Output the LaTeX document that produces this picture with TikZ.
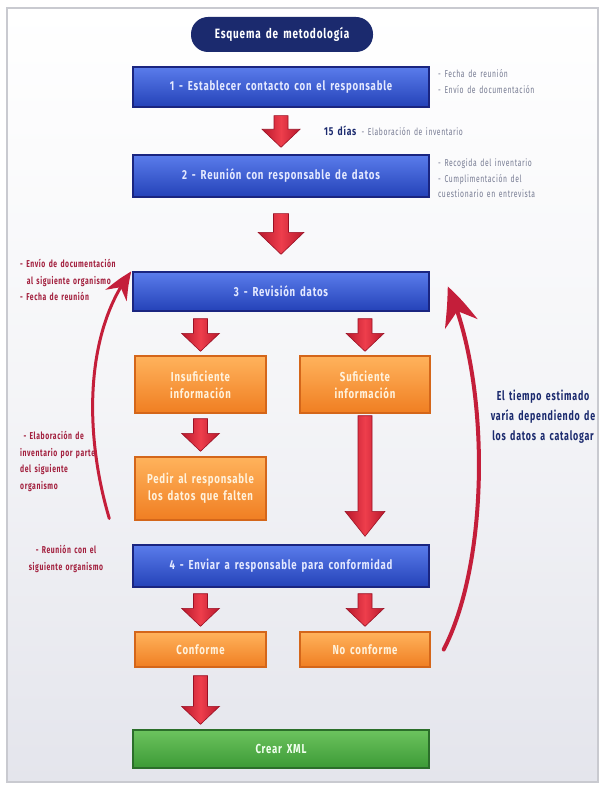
\documentclass[tikz,border=0pt]{standalone}
\usepackage{fontspec}
\setmainfont{Fira Sans}[FakeStretch=0.8]
\newfontfamily\condfont{Fira Sans}[FakeStretch=0.74, LetterSpace=6, WordSpace=1.6]
\newfontfamily\narrowfont{Fira Sans}[FakeStretch=0.68, LetterSpace=6, WordSpace=1.5]
\usetikzlibrary{calc,arrows.meta,bending}

\definecolor{navy}{HTML}{1B2A6E}
\definecolor{bluetop}{HTML}{5A7CEB}
\definecolor{bluebot}{HTML}{2442B8}
\definecolor{bluedge}{HTML}{1A2580}
\definecolor{bluetext}{HTML}{E4E9FF}
\definecolor{orgtop}{HTML}{FFB35C}
\definecolor{orgbot}{HTML}{F07E22}
\definecolor{orgedge}{HTML}{D4661A}
\definecolor{orgtext}{HTML}{FFF2DC}
\definecolor{grntop}{HTML}{6CC35E}
\definecolor{grnbot}{HTML}{3C9A36}
\definecolor{grnedge}{HTML}{2B6E2A}
\definecolor{grntext}{HTML}{F0FFEE}
\definecolor{arrlight}{HTML}{EE3E4C}
\definecolor{arrdark}{HTML}{B8182C}
\definecolor{arredge}{HTML}{9A1024}
\definecolor{curvecol}{HTML}{C41E3A}
\definecolor{notegray}{HTML}{767B92}
\definecolor{notered}{HTML}{A3213F}
\definecolor{bgbottom}{HTML}{E4E5EC}
\definecolor{framecol}{HTML}{C9CAD0}

% block arrow: shaft half width, head half width, head length, start, tip
\newcommand{\blockarr}[5]{%
  \path[redarr] let \p1=#4, \p2=#5 in
    (\x1-#1pt,\y1) -- (\x1+#1pt,\y1) -- (\x1+#1pt,\y2+#3pt)
    -- (\x1+#2pt,\y2+#3pt) -- (\x1,\y2) -- (\x1-#2pt,\y2+#3pt)
    -- (\x1-#1pt,\y2+#3pt) -- cycle;}

\begin{document}
\begin{tikzpicture}[x=1pt,y=-1pt,
  box/.style={draw, line width=1.4pt, align=center, inner sep=0pt,
    font=\condfont\bfseries\fontsize{13}{17}\selectfont},
  bluebox/.style={box, draw=bluedge, top color=bluetop, bottom color=bluebot,
    text=bluetext, minimum width=296pt},
  orgbox/.style={box, draw=orgedge, top color=orgtop, bottom color=orgbot,
    text=orgtext, minimum width=131pt},
  grnbox/.style={box, draw=grnedge, top color=grntop, bottom color=grnbot,
    text=grntext, minimum width=296pt},
  redarr/.style={draw=arredge, line width=0.6pt, left color=arrdark,
    right color=arrdark, middle color=arrlight},
  curvearr/.style={draw=curvecol, line cap=round},
  notes/.style={anchor=north west, align=left, inner sep=0pt,
    font=\narrowfont\fontsize{10}{16}\selectfont},
  rnote/.style={notes, text=notegray},
  lnote/.style={notes, text=notered, font=\narrowfont\bfseries\fontsize{10}{16.5}\selectfont},
]
\useasboundingbox (0,0) rectangle (600,786);
\fill[white] (0,0) rectangle (600,786);
\shade[top color=white, bottom color=bgbottom, middle color=white!60!bgbottom]
  (7,8) rectangle (598,782);
\draw[framecol, line width=1.2pt] (7,8) rectangle (598,782);

% title
\node[fill=navy, rounded corners=17pt, minimum width=182pt, minimum height=35pt,
  text=white, font=\condfont\bfseries\fontsize{13.5}{16}\selectfont] (title) at (282,34.5)
  {Esquema de metodología};

% steps
\node[bluebox, minimum height=40pt] (b1) at (281,87) {1 - Establecer contacto con el responsable};
\node[bluebox, minimum height=42pt] (b2) at (281,176) {2 - Reunión con responsable de datos};
\node[bluebox, minimum height=39pt] (b3) at (281,291.5) {3 - Revisión datos};
\node[orgbox, minimum height=57pt] (insuf) at (200.5,384.5) {Insuficiente\\información};
\node[orgbox, minimum height=57pt, minimum width=130pt] (suf) at (365,384.5) {Suficiente\\información};
\node[orgbox, minimum height=63pt] (pedir) at (200.5,488.5) {Pedir al responsable\\los datos que falten};
\node[bluebox, minimum height=42pt] (b4) at (281,566) {4 - Enviar a responsable para conformidad};
\node[orgbox, minimum height=35pt] (conf) at (200.5,649.5) {Conforme};
\node[orgbox, minimum height=35pt, minimum width=130pt] (noconf) at (365,649.5) {No conforme};
\node[grnbox, minimum height=38pt] (xml) at (281,749) {Crear XML};

% block arrows
\blockarr{7}{19}{18}{($(b1.south)+(0,8)$)}{($(b2.north)+(0,-7)$)}
\blockarr{7.5}{23}{22}{($(b2.south)+(0,16)$)}{($(b3.north)+(0,-17)$)}
\blockarr{7}{19}{18}{($(b3.south-|insuf.north)+(0,7)$)}{($(insuf.north)+(0,-4)$)}
\blockarr{7}{19}{18}{($(b3.south-|suf.north)+(0,7)$)}{($(suf.north)+(0,-4)$)}
\blockarr{7}{19}{18}{($(insuf.south)+(0,5)$)}{($(pedir.north)+(0,-5)$)}
\blockarr{7}{20}{25}{($(suf.south)+(0,2)$)}{($(b4.north)+(0,-8)$)}
\blockarr{7}{19}{18}{($(b4.south-|conf.north)+(0,6)$)}{($(conf.north)+(0,-5)$)}
\blockarr{7}{19}{18}{($(b4.south-|noconf.north)+(0,6)$)}{($(noconf.north)+(0,-5)$)}
\blockarr{7}{19}{18}{($(conf.south)+(0,8)$)}{($(xml.north)+(0,-5)$)}

% loop-back arrows
\coordinate (rtail) at ($(noconf.east)+(13,0)$);
\coordinate (rtip) at ($(b3.east)+(18,-5)$);
\draw[curvearr, line width=4pt, -{Stealth[length=38pt,width=34pt,bend]}]
  (rtail) .. controls (490,560) and (490,380) .. (rtip);
\coordinate (ltail) at ($(pedir.west)+(-25,30)$);
\coordinate (ltip) at ($(b3.west)+(-1,-20)$);
\draw[curvearr, line width=3pt, -{Stealth[length=28pt,width=24pt,bend]}]
  (ltail) .. controls (83,430) and (86,330) .. (ltip);

% annotations
\node[rnote] (n1) at (438,69) {- Fecha de reunión\\- Envío de documentación};
\node[text=navy, anchor=west, font=\condfont\bfseries\fontsize{11.5}{14}\selectfont, inner sep=0pt]
  (dias) at (324,131) {15 días};
\node[rnote, anchor=west] (n15) at ($(dias.east)+(5,1)$) {- Elaboración de inventario};
\node[rnote, font=\narrowfont\fontsize{10}{15.5}\selectfont] (n2) at (438,159)
  {- Recogida del inventario\\- Cumplimentación del\\cuestionario en entrevista};

\node[lnote] (l1) at (20,259) {- Envío de documentación\\\ \ al siguiente organismo\\- Fecha de reunión};
\node[lnote] (l2) at (20,431) {\ - Elaboración de\\inventario por parte\\del siguiente\\organismo};
\node[lnote, align=center, anchor=north] (l3) at (66,545) {- Reunión con el\\siguiente organismo};

\node[text=navy, align=center, font=\narrowfont\bfseries\fontsize{13}{20}\selectfont, anchor=north]
  (tiempo) at (543,386) {El tiempo estimado\\varía dependiendo de\\los datos a catalogar};
\end{tikzpicture}
\end{document}
